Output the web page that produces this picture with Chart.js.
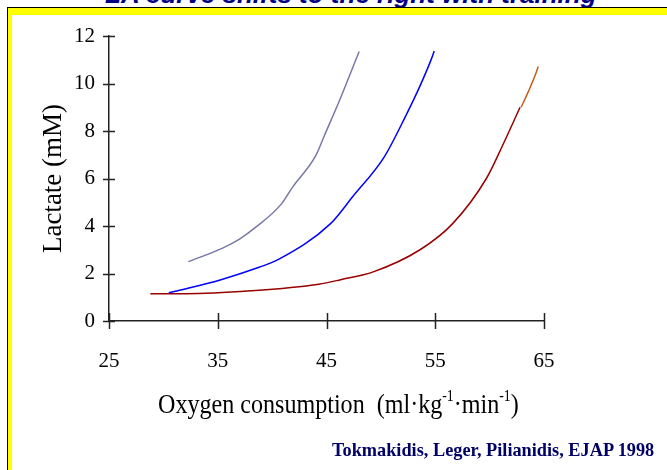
<!DOCTYPE html>
<html>
<head>
<meta charset="utf-8">
<script src="https://cdn.jsdelivr.net/npm/chart.js@4"></script>
<style>
  html, body { margin: 0; padding: 0; background: #fff; }
  #page { position: relative; width: 667px; height: 470px; overflow: hidden; background: #fff; }
  #title {
    position: absolute; left: 105px; top: -19px; white-space: nowrap;
    font: italic bold 26px "Liberation Sans", Arial, sans-serif; color: #000080; line-height: 26px;
  }
  #frame {
    position: absolute; left: 7px; top: 7px; right: -2px; bottom: -2px;
    border-top: 1px solid #000; border-left: 1px solid #000;
    background: #ffff00;
  }
  #inner { position: absolute; left: 12px; top: 15px; right: 0; bottom: 0; background: #fff; }
  #xtitle {
    position: absolute; left: 158px; top: 388px; white-space: nowrap;
    font: 28px "Liberation Serif", "Times New Roman", serif; color: #000;
    transform: scaleX(0.86); transform-origin: left top;
  }
  #xtitle sup { font-size: 16px; vertical-align: 12px; line-height: 0; }
  #credit {
    position: absolute; left: 332px; top: 440px; white-space: nowrap;
    font: bold 18.3px "Liberation Serif", "Times New Roman", serif; color: #000066;
  }
  canvas { position: absolute; left: 0; top: 0; }
</style>
</head>
<body>
<div id="page">
  <div id="title">LA curve shifts to the right with training</div>
  <div id="frame"></div>
  <div id="inner"></div>
  <canvas id="chart" width="667" height="470"></canvas>
  <div id="xtitle">Oxygen consumption&nbsp; (ml·kg<sup>-1</sup>·min<sup>-1</sup>)</div>
  <div id="credit">Tokmakidis, Leger, Pilianidis, EJAP 1998</div>
</div>
<script>
document.addEventListener('DOMContentLoaded', function() {
    // oxygen consumption (x) and lactate (y) for each curve
    const curveAx = [32.3, 35.4, 37.0, 38.5, 40.8, 41.9, 44.0, 44.8, 46.3, 48.0];
    const curveAy = [2.5, 3.06, 3.45, 3.95, 4.9, 5.65, 6.95, 7.8, 9.4, 11.35];

    const curveBx = [30.5, 32.0, 35.3, 38.8, 40.5, 45.4, 47.4, 50.3, 52.3, 53.6, 54.7, 54.9];
    const curveBy = [1.19, 1.35, 1.74, 2.26, 2.57, 4.11, 5.23, 6.9, 8.65, 9.9, 11.1, 11.37];

    const curveCx = [28.8, 32.0, 38.0, 44.3, 46.3, 49.3, 53.6, 56.6, 59.7, 61.2, 62.8];
    const curveCy = [1.15, 1.15, 1.27, 1.55, 1.74, 2.07, 3.0, 4.1, 6.0, 7.4, 9.0];

    const curveCtailX = [62.9, 63.6, 64.3, 64.47];
    const curveCtailY = [9.0, 9.7, 10.48, 10.72];

    const xTicks = [25, 35, 45, 55, 65];
    const yTicks = [0, 2, 4, 6, 8, 10, 12];

    function toPoints(xs, ys) {
        return xs.map((x, i) => ({ x: x, y: ys[i] }));
    }

    function line(xs, ys, color) {
        return {
            data: toPoints(xs, ys),
            showLine: true,
            borderColor: color,
            borderWidth: 1.5,
            pointRadius: 0,
            cubicInterpolationMode: 'monotone',
            fill: false
        };
    }

    // tick marks crossing the axes
    const crossTicks = {
        id: 'crossTicks',
        afterDraw(chart) {
            const ctx = chart.ctx;
            const x = chart.scales.x, y = chart.scales.y;
            const area = chart.chartArea;
            ctx.save();
            ctx.strokeStyle = '#222';
            ctx.lineWidth = 1.5;
            ctx.beginPath();
            xTicks.forEach(v => {
                const px = Math.round(x.getPixelForValue(v)) + 0.5;
                ctx.moveTo(px, area.bottom - 8);
                ctx.lineTo(px, area.bottom + 8);
            });
            yTicks.forEach(v => {
                const py = Math.round(y.getPixelForValue(v)) + 0.5;
                ctx.moveTo(area.left - 6, py);
                ctx.lineTo(area.left + 6, py);
            });
            ctx.stroke();
            ctx.restore();
        }
    };

    const tickFont = { family: '"Liberation Serif", "Times New Roman", serif', size: 21 };

    new Chart(document.getElementById('chart').getContext('2d'), {
        type: 'scatter',
        data: {
            datasets: [
                line(curveAx, curveAy, '#7878a8'),
                line(curveBx, curveBy, '#0000ff'),
                line(curveCx, curveCy, '#990000'),
                line(curveCtailX, curveCtailY, '#c0601a')
            ]
        },
        options: {
            responsive: false,
            animation: false,
            layout: { padding: { left: 38, right: 123, top: 36, bottom: 0 } },
            plugins: {
                legend: { display: false },
                tooltip: { enabled: false }
            },
            scales: {
                x: {
                    type: 'linear',
                    min: 25, max: 65,
                    afterBuildTicks: s => { s.ticks = xTicks.map(v => ({ value: v })); },
                    afterFit: s => { s.height = 149; },
                    grid: { display: true, drawOnChartArea: false, drawTicks: false },
                    border: { display: true, color: '#222', width: 1.5 },
                    ticks: { color: '#000', font: tickFont, padding: 28 }
                },
                y: {
                    type: 'linear',
                    min: 0, max: 12,
                    afterBuildTicks: s => { s.ticks = yTicks.map(v => ({ value: v })); },
                    afterFit: s => { s.width = 71; },
                    grid: { display: true, drawOnChartArea: false, drawTicks: false },
                    border: { display: true, color: '#222', width: 1.5 },
                    ticks: { color: '#000', font: tickFont, padding: 14 },
                    title: {
                        display: true,
                        text: 'Lactate (mM)',
                        color: '#000',
                        font: { family: '"Liberation Serif", "Times New Roman", serif', size: 27 },
                        padding: { top: 0, bottom: 0 }
                    }
                }
            }
        },
        plugins: [crossTicks]
    });
});
</script>
</body>
</html>
